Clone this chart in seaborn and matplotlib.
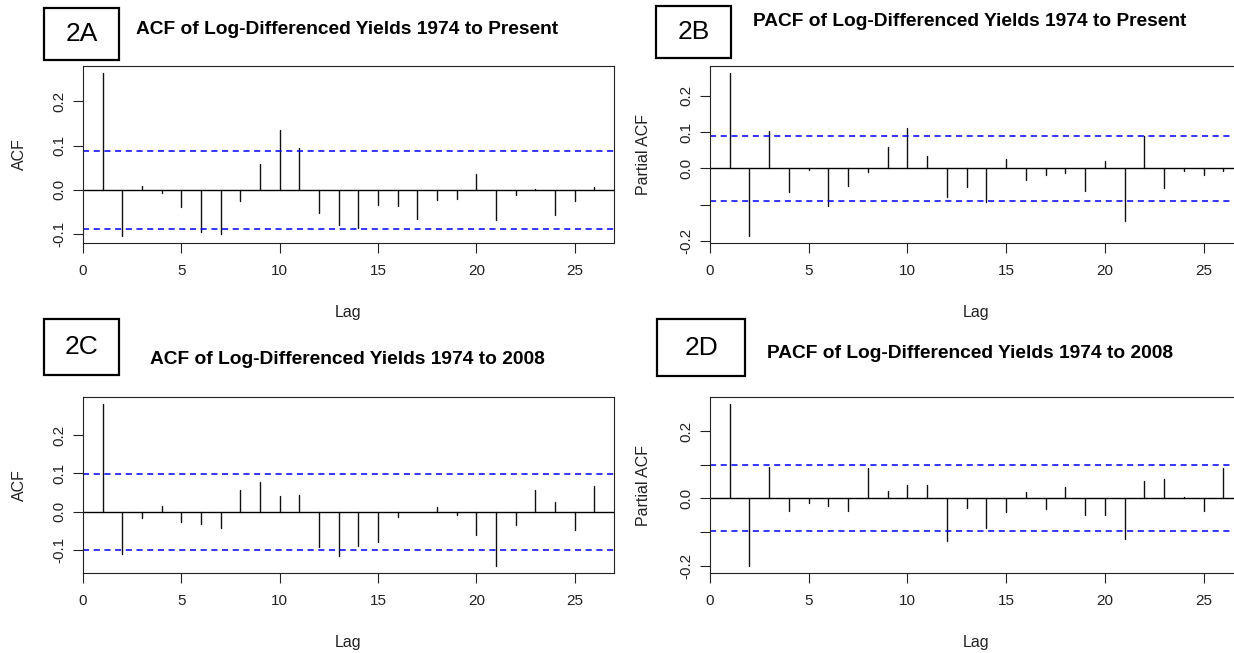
import numpy as np
import pandas as pd
import matplotlib
matplotlib.use("Agg")
import matplotlib.pyplot as plt
import seaborn as sns
from matplotlib.patches import Rectangle

sns.set_style("ticks")
plt.rcParams['font.family'] = ['Liberation Sans', 'DejaVu Sans']

# ── data ─────────────────────────────────────────────────────────────────────
lags = list(range(1, 27))

acf_present = [0.265, -0.105, 0.010, -0.007, -0.039, -0.096, -0.099, -0.026, 0.059, 0.135,
               0.095, -0.053, -0.080, -0.087, -0.034, -0.037, -0.066, -0.023, -0.020, 0.035,
               -0.069, -0.012, 0.002, -0.056, -0.026, 0.007]
pacf_present = [0.264, -0.188, 0.102, -0.065, -0.005, -0.105, -0.049, -0.009, 0.058, 0.111,
                0.034, -0.078, -0.052, -0.092, 0.025, -0.032, -0.019, -0.012, -0.062, 0.021,
                -0.145, 0.090, -0.055, -0.008, -0.019, -0.008]
acf_2008 = [0.282, -0.110, -0.016, 0.015, -0.027, -0.032, -0.041, 0.058, 0.077, 0.042,
            0.045, -0.091, -0.114, -0.088, -0.079, -0.013, 0.001, 0.014, -0.008, -0.060,
            -0.142, -0.035, 0.058, 0.027, -0.048, 0.067]
pacf_2008 = [0.282, -0.202, 0.094, -0.038, -0.014, -0.021, -0.038, 0.091, 0.023, 0.040,
             0.040, -0.127, -0.027, -0.088, -0.041, 0.020, -0.031, 0.034, -0.049, -0.050,
             -0.121, 0.052, 0.059, 0.005, -0.038, 0.091]

ci_present = 0.089
ci_2008 = 0.098

titles = ['ACF of Log-Differenced Yields 1974 to Present',
          'PACF of Log-Differenced Yields 1974 to Present',
          'ACF of Log-Differenced Yields 1974 to 2008',
          'PACF of Log-Differenced Yields 1974 to 2008']
panel_tags = ['2A', '2B', '2C', '2D']
ylabels = ['ACF', 'Partial ACF', 'ACF', 'Partial ACF']

W, H = 1234, 653
fig = plt.figure(figsize=(W / 100, H / 100), dpi=100)


def px_axes(left, top, right, bottom):
    return fig.add_axes([left / W, 1 - bottom / H, (right - left) / W, (bottom - top) / H])


def draw_panel(ax, vals, ci, yticks, ytick_labels, ylabel, ylab_x):
    df = pd.DataFrame({'lag': lags * 2, 'value': [0.0] * len(lags) + vals})
    sns.lineplot(data=df, x='lag', y='value', units='lag', estimator=None,
                 color='#111111', linewidth=1.0, ax=ax, legend=False)
    ax.axhline(0, color='black', lw=1.0)
    for c in (ci, -ci):
        ax.axhline(c, color='#0000FF', lw=1.1, linestyle=(0, (4, 3)))
    lo = min(min(vals), -ci)
    hi = max(max(vals), ci)
    pad = (hi - lo) * 0.04
    ax.set_ylim(lo - pad, hi + pad)
    ax.set_xlim(0, 27)
    ax.set_xticks([0, 5, 10, 15, 20, 25])
    ax.set_yticks(yticks)
    ax.set_yticklabels(ytick_labels, rotation=90, va='center')
    ax.tick_params(axis='both', labelsize=11, length=7, width=0.8, colors='#222222')
    ax.tick_params(axis='x', pad=8)
    ax.tick_params(axis='y', pad=5)
    for s in ax.spines.values():
        s.set_linewidth(0.8)
        s.set_color('#222222')
    ax.set_xlabel('Lag', fontsize=11.5, color='#222222')
    ax.set_ylabel(ylabel, fontsize=11.5, color='#222222')
    ax.xaxis.set_label_coords(0.5, -70 / 177)
    ax.xaxis.label.set_va('center')
    ax.yaxis.set_label_coords(ylab_x, 0.5)
    ax.yaxis.label.set_va('center')


ax_a = px_axes(83, 66, 614, 243)
draw_panel(ax_a, acf_present, ci_present, [-0.1, 0.0, 0.1, 0.2],
           ['-0.1', '0.0', '0.1', '0.2'], ylabels[0], -(83 - 19) / 531)

ax_b = px_axes(710, 66, 1243, 243)
draw_panel(ax_b, pacf_present, ci_present, [-0.2, -0.1, 0.0, 0.1, 0.2],
           ['-0.2', '', '0.0', '0.1', '0.2'], ylabels[1], -(710 - 643) / 533)

ax_c = px_axes(83, 397, 614, 573)
draw_panel(ax_c, acf_2008, ci_2008, [-0.1, 0.0, 0.1, 0.2],
           ['-0.1', '0.0', '0.1', '0.2'], ylabels[2], -(83 - 19) / 531)

ax_d = px_axes(710, 397, 1243, 573)
draw_panel(ax_d, pacf_2008, ci_2008, [-0.2, -0.1, 0.0, 0.1, 0.2],
           ['-0.2', '', '0.0', '', '0.2'], ylabels[3], -(710 - 643) / 533)

# boxed panel tags and bold titles
tag_boxes = [(44, 8, 119, 60), (656, 6, 731, 58), (44, 319, 119, 375), (657, 319, 745, 376)]
title_pos = [(136, 30), (753, 21), (150, 359), (767, 353)]

for tag, (x0, y0, x1, y1) in zip(panel_tags, tag_boxes):
    fig.patches.append(Rectangle((x0 / W, 1 - y1 / H), (x1 - x0) / W, (y1 - y0) / H,
                                 transform=fig.transFigure, fill=False,
                                 edgecolor='black', linewidth=1.6))
    fig.text((x0 + x1) / 2 / W, 1 - (y0 + y1) / 2 / H, tag, ha='center', va='center',
             fontsize=19, color='black')

for title, (tx, ty) in zip(titles, title_pos):
    fig.text(tx / W, 1 - ty / H, title, ha='left', va='center',
             fontsize=13.8, fontweight='bold', color='black')

fig.savefig('out.png', dpi=100)
